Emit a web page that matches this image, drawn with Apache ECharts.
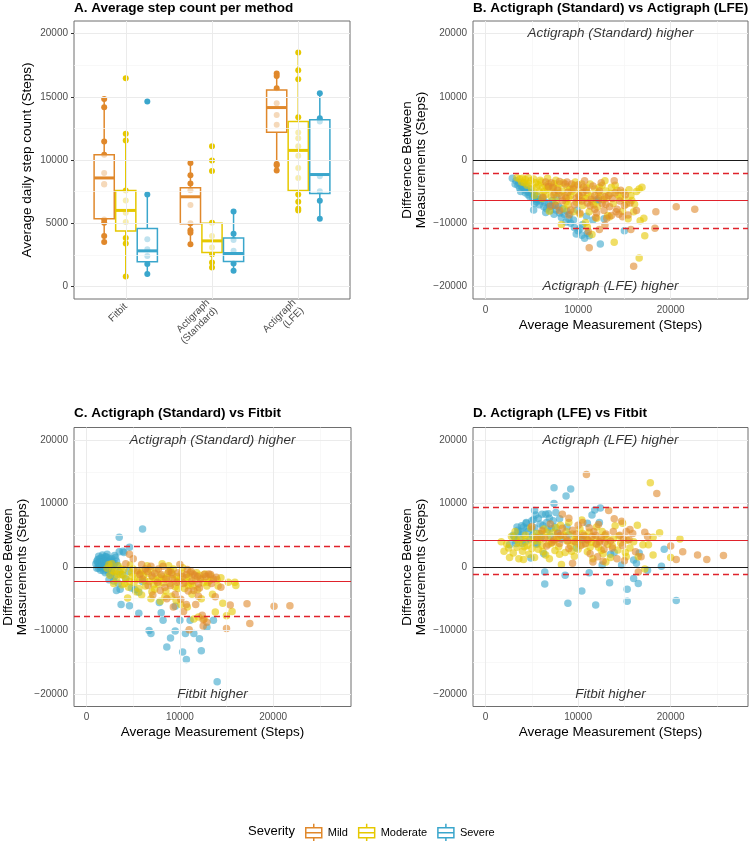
<!DOCTYPE html>
<html><head><meta charset="utf-8">
<script src="https://cdn.jsdelivr.net/npm/echarts@6.0.0/dist/echarts.min.js"></script>
<style>html,body{margin:0;padding:0;background:#fff}#c{width:750px;height:841px}</style>
</head><body><div id="c"></div>
<script>
// ---------- DATA ----------
const severities = ['Mild', 'Moderate', 'Severe'];
const methods = ['Fitbit', 'Actigraph\n(Standard)', 'Actigraph\n(LFE)'];
const panelTitles = ['A. Average step count per method', 'B. Actigraph (Standard) vs Actigraph (LFE)', 'C. Actigraph (Standard) vs Fitbit', 'D. Actigraph (LFE) vs Fitbit'];

// Panel A tick labels
const stepTicks = [0, 5000, 10000, 15000, 20000];
const stepMinor = [2500, 7500, 12500, 17500];
const methodTicks = [1, 2, 3];
// Bland-Altman tick labels
const diffTicks = [-20000, -10000, 0, 10000, 20000];
const diffMinor = [-15000, -5000, 5000, 15000];
const avgTicks = [0, 10000, 20000];
const avgMinor = [5000, 15000, 25000];

// Box statistics per method [min, Q1, median, Q3, max]
const boxMild = [[3520, 5350, 8580, 10420, 14830], [3330, 4960, 7090, 7800, 9760], [9160, 12200, 14150, 15540, 16850]];
const boxModerate = [[790, 4380, 6010, 7590, 12070], [1500, 2680, 3600, 4990, 5040], [6010, 7590, 10760, 13040, 18500]];
const boxSevere = [[970, 1940, 2810, 4570, 7270], [1230, 1970, 2600, 3830, 5930], [5350, 7350, 8850, 13180, 15280]];

// Participant averages per method
const ptsMild = [
  [14830, 14170, 11470, 10420, 8980, 8110, 8060, 5300, 5040, 3990, 3520],
  [9760, 8790, 8140, 7610, 6430, 4990, 4440, 4250, 3330],
  [16850, 16640, 15670, 14490, 13570, 12780, 9690, 9580, 9160]
];
const ptsModerate = [
  [16460, 12070, 11550, 7590, 6800, 5830, 5090, 3830, 3390, 790],
  [11080, 9970, 9130, 5040, 3990, 3070, 2550, 1890, 1500],
  [18500, 17110, 16400, 13390, 12180, 11730, 11080, 10340, 9370, 8580, 7270, 6690, 6140, 6010]
];
const ptsSevere = [
  [14620, 7270, 3730, 2940, 2410, 1760, 970],
  [5930, 4170, 3670, 2810, 1810, 1230],
  [15280, 13310, 13040, 8710, 7530, 6770, 5350]
];

// Panel B: [average, difference]
const bSevere = [[2900,-2900],[3200,-3800],[3300,-3300],[3500,-4000],[3600,-3600],[3700,-4500],[3800,-5000],[3900,-4100],[4000,-4300],[4100,-3700],[4200,-4600],[4300,-5200],[4400,-4200],[4500,-4900],[4600,-5500],[4700,-5100],[4800,-4600],[4800,-5800],[5000,-5300],[5100,-6000],[5200,-7900],[5300,-6900],[5300,-5500],[5400,-6200],[5500,-6600],[5600,-5700],[5700,-6300],[5800,-7100],[6000,-6500],[6200,-6000],[6300,-7400],[6400,-6700],[6500,-8300],[6600,-7700],[6800,-6800],[6900,-7400],[7000,-8000],[7200,-7300],[7200,-6400],[7400,-8600],[7500,-7100],[7600,-7900],[7700,-5900],[7900,-7400],[8000,-8400],[8200,-9100],[8300,-7700],[8500,-8600],[8700,-9800],[8800,-8100],[9000,-9300],[9100,-8600],[9200,-10000],[9500,-9500],[9600,-10700],[9800,-11700],[9900,-7900],[10000,-11200],[10200,-10900],[10400,-11900],[10500,-10200],[10700,-12400],[10900,-8900],[11000,-11600],[11200,-12000],[11600,-9500],[12000,-6300],[12200,-6400],[12400,-13300],[12800,-9300],[15000,-11200]];
const bModerate = [[3400,-2800],[3700,-3000],[3900,-3500],[4000,-2900],[4200,-3600],[4300,-3100],[4500,-4000],[4600,-2800],[4700,-3700],[4900,-3300],[5000,-4600],[5200,-3000],[5300,-5600],[5400,-3600],[5500,-4300],[5700,-3900],[5800,-5000],[5900,-3200],[6000,-3500],[6100,-6100],[6200,-4400],[6300,-5000],[6500,-4100],[6500,-5500],[6700,-2900],[6700,-4500],[6800,-3800],[6900,-8100],[7000,-4700],[7100,-5800],[7300,-4200],[7400,-3700],[7500,-5200],[7600,-6500],[7600,-3200],[7800,-4500],[7900,-5300],[8000,-3800],[8200,-10200],[8300,-4900],[8400,-3600],[8500,-7700],[8600,-5600],[8700,-6600],[8800,-4200],[8900,-7100],[9000,-6100],[9100,-4600],[9200,-5600],[9300,-5000],[9500,-4400],[9500,-8200],[9600,-4000],[9700,-3500],[9800,-6700],[10000,-5400],[10100,-6300],[10200,-8600],[10300,-4800],[10400,-3800],[10500,-7200],[10600,-5900],[10800,-6100],[10800,-9900],[10900,-4400],[11000,-5200],[11000,-10600],[11200,-8200],[11300,-3800],[11400,-5700],[11500,-6600],[11500,-11800],[11700,-7100],[11800,-4600],[12000,-9200],[12100,-7400],[12200,-5200],[12300,-4300],[12400,-5700],[12600,-4000],[12700,-6300],[12900,-3300],[13000,-4900],[13100,-6000],[13200,-8800],[13400,-9000],[13500,-5300],[13600,-4300],[13800,-6900],[13900,-13000],[14000,-4000],[14200,-4800],[14300,-5500],[14500,-6000],[14800,-8100],[14900,-5100],[15000,-6200],[15200,-7000],[15400,-9300],[15500,-4700],[15700,-5600],[15800,-6400],[16000,-8200],[16100,-7000],[16300,-5000],[16600,-4600],[16600,-15500],[16700,-9600],[16900,-4300],[17100,-9200],[17200,-12000]];
const bMild = [[6200,-5900],[6500,-3500],[6800,-4200],[7000,-7300],[7100,-3600],[7300,-4400],[7400,-5500],[7600,-7200],[7800,-4800],[8000,-3400],[8000,-8000],[8200,-5700],[8300,-6500],[8600,-3800],[8700,-6000],[8800,-3500],[8900,-5100],[9000,-8700],[9200,-7900],[9300,-3800],[9500,-4600],[9600,-7100],[9800,-6000],[10000,-3900],[10100,-5700],[10200,-8400],[10400,-6500],[10500,-5200],[10600,-4300],[10700,-3300],[10900,-4800],[11000,-6800],[11100,-11300],[11200,-13900],[11300,-7300],[11400,-6200],[11600,-4100],[11800,-5600],[11800,-7800],[11900,-9100],[12000,-8400],[12200,-6100],[12300,-11000],[12300,-4900],[12500,-3600],[12600,-6900],[12800,-8000],[12900,-10300],[12900,-5800],[13000,-7000],[13100,-9200],[13300,-5600],[13400,-7400],[13600,-8800],[13700,-6100],[13900,-3300],[14000,-5200],[14100,-8200],[14200,-7800],[14400,-8600],[14500,-6500],[14600,-4800],[14800,-9000],[15000,-7200],[15100,-5500],[15400,-8700],[15600,-6800],[15700,-11000],[16000,-16800],[16300,-8000],[18300,-10800],[18400,-8200],[20600,-7400],[22600,-7800]];

// Panel C
const cSevere = [[1000,500],[1100,-200],[1100,900],[1200,1200],[1200,700],[1300,-200],[1300,400],[1300,1700],[1400,100],[1400,1300],[1500,800],[1500,200],[1500,-500],[1600,1500],[1600,-100],[1700,300],[1700,800],[1700,1900],[1800,-600],[1800,100],[1800,1300],[1900,1000],[1900,400],[2000,1600],[2000,200],[2000,-900],[2100,-300],[2100,1000],[2100,1600],[2200,600],[2200,2000],[2300,1400],[2300,-500],[2400,-1000],[2400,800],[2400,-2000],[2500,200],[2500,900],[2600,1100],[2600,-1300],[2700,-400],[2700,-900],[2700,1300],[2800,700],[2900,-2200],[2900,300],[3000,-1500],[3000,500],[3000,1800],[3100,1500],[3200,900],[3200,-3700],[3300,200],[3400,-2600],[3500,-800],[3500,2400],[3500,4700],[3600,-3500],[3700,-5900],[3800,-1200],[3900,2500],[4000,2300],[4200,-1900],[4500,-700],[4600,3100],[4600,-6100],[4800,-3300],[5200,-3600],[5600,-7300],[5600,-4000],[6000,-2300],[6000,6000],[6700,-10000],[6900,-10500],[7800,-5600],[8000,-7200],[8200,-8400],[8600,-12600],[9000,-11200],[9500,-10100],[9500,-6200],[10000,-8400],[10300,-13400],[10600,-10500],[10700,-14600],[11100,-8400],[11500,-10500],[12100,-11300],[12300,-13200],[12900,-9500],[13600,-8400],[14000,-18100]];
const cModerate = [[2200,-200],[2400,400],[2500,-1300],[2700,500],[2800,-600],[2900,-2600],[3000,-800],[3200,-2000],[3300,-1100],[3400,200],[3600,-1200],[3700,-300],[3800,-2800],[3900,-1300],[4000,-400],[4100,-2600],[4200,-1800],[4400,-4900],[4500,-3200],[4600,-2300],[4700,300],[4800,-900],[4900,-1500],[5000,-300],[5100,-2500],[5200,-1900],[5300,-3900],[5500,-900],[5600,-3400],[5700,-2000],[5800,-1000],[5900,-4400],[6000,-600],[6100,-1300],[6200,-2100],[6300,-3000],[6500,200],[6600,-1000],[6700,-2300],[6800,-400],[6900,-5000],[7000,-3900],[7100,-1600],[7200,-2800],[7300,-3500],[7400,-2100],[7500,-600],[7700,-2700],[7800,-1700],[7900,-5400],[8000,-1400],[8100,500],[8200,-2500],[8300,-1900],[8400,-4700],[8500,-3800],[8600,-1600],[8700,-1000],[8800,200],[8900,-2600],[9000,-600],[9100,-4600],[9200,-1200],[9300,-300],[9400,-2000],[9500,-3100],[9600,-5300],[9700,-1500],[9800,-3400],[9900,-2200],[10000,-1900],[10100,-5900],[10200,-1000],[10300,-100],[10500,-3400],[10600,-2400],[10700,-1700],[10800,-6300],[10900,-2900],[11000,-1500],[11100,-900],[11200,-2600],[11300,-4300],[11400,-3000],[11500,-8200],[11700,-2000],[11800,-900],[11900,-3600],[12000,-7900],[12100,-1300],[12300,-5000],[12400,-1800],[12500,-2500],[12600,-8200],[12700,-1100],[12900,-3000],[13000,-2400],[13200,-2100],[13300,-1400],[13500,-4300],[13800,-7100],[14000,-2000],[14100,-3000],[14400,-1700],[14600,-5700],[15000,-7700],[15200,-2400],[15600,-7000],[15900,-2400],[16000,-2900]];
const cMild = [[4200,500],[4600,2000],[5000,1300],[5400,-600],[5700,-1200],[5900,400],[6000,-1900],[6300,-300],[6500,-700],[6600,-2900],[6900,100],[7000,-1400],[7100,-4400],[7300,-1000],[7600,-2400],[7700,-300],[7900,-3700],[8000,-1200],[8200,100],[8400,-3200],[8500,-1900],[8600,-5000],[8800,-700],[9000,-2900],[9100,-900],[9200,-1800],[9300,-6300],[9500,-4300],[9700,-2400],[9800,-900],[10000,400],[10100,-5100],[10300,-1500],[10400,-2600],[10400,-7000],[10700,-1200],[10700,-5900],[10800,-400],[10900,-3800],[11000,-9900],[11200,-700],[11300,-2200],[11400,-1100],[11500,-3700],[11600,-1300],[11700,-5900],[11900,-1500],[12000,-4600],[12000,-2700],[12100,-3300],[12200,-1900],[12400,-7600],[12500,-8300],[12500,-9300],[12600,-1200],[12800,-1500],[12900,-8700],[13100,-1100],[13300,-1200],[13400,-2600],[13600,-1900],[13800,-4700],[13900,-1600],[14400,-3200],[15000,-9700],[15400,-6000],[17200,-5800],[17500,-8900],[20100,-6200],[21800,-6100]];

// Panel D
const dSevere = [[2600,3500],[3000,5000],[3100,4800],[3200,4200],[3300,3700],[3400,6300],[3500,5500],[3500,5800],[3700,4600],[3800,5600],[3900,6500],[4000,3700],[4100,5200],[4100,6300],[4300,4000],[4400,6900],[4400,7000],[4500,6100],[4600,5600],[4800,4400],[4900,1400],[5000,7300],[5000,6000],[5100,5000],[5200,7500],[5300,6200],[5300,8900],[5400,8200],[5500,3600],[5600,3700],[5700,7700],[5800,5300],[5900,6800],[6000,4700],[6100,8300],[6200,6500],[6300,2100],[6400,-800],[6400,-2700],[6500,8300],[6600,7000],[6700,5900],[6800,8400],[6900,7700],[7000,4900],[7100,6100],[7300,7300],[7400,12500],[7400,10000],[7500,6300],[7600,8600],[7800,5400],[8000,7600],[8200,4400],[8600,-1300],[8700,11200],[8800,6300],[8900,-5700],[9000,5100],[9200,12300],[9800,3000],[10400,-3800],[10500,4300],[11000,6900],[11200,-900],[11500,8200],[11800,9000],[11900,-6000],[12300,7000],[12400,9300],[12600,300],[13400,-2500],[13500,2000],[13900,2300],[14700,300],[15300,-3500],[15300,-5400],[16000,1100],[16000,-1800],[16300,600],[16500,-2600],[16600,2200],[17500,-500],[19000,100],[19300,2800],[20600,-5300]];
const dModerate = [[1700,4000],[2000,2500],[2300,3600],[2500,3000],[2600,1500],[2800,4800],[3000,2200],[3200,5600],[3300,4400],[3400,3100],[3600,1300],[3600,3800],[3800,4300],[4000,2500],[4100,1200],[4200,3200],[4300,5000],[4400,4500],[4500,3400],[4700,2000],[4900,6200],[5000,2900],[5100,4000],[5200,4700],[5300,1500],[5500,5300],[5600,4100],[5700,2800],[5900,4400],[6000,5200],[6100,3400],[6200,2400],[6300,6000],[6500,1900],[6600,5500],[6700,4700],[6800,3600],[6900,1300],[7100,3700],[7300,5400],[7400,4100],[7500,2600],[7600,6200],[7700,4500],[7900,3200],[7900,4800],[8000,2000],[8100,6600],[8200,400],[8400,5000],[8600,2300],[8700,5600],[8800,4100],[9000,7000],[9200,3300],[9300,2500],[9400,5200],[9500,4100],[9600,1700],[9800,4500],[9900,3700],[10000,2800],[10000,4400],[10200,6000],[10400,7400],[10500,5300],[10600,3600],[10800,4800],[11000,2400],[11100,4200],[11200,5500],[11300,3100],[11400,3900],[11600,1300],[11800,4600],[11900,3700],[12000,6300],[12200,3100],[12400,4200],[12500,2600],[12600,5600],[12700,2100],[12900,5000],[13000,800],[13100,4500],[13200,3600],[13500,1500],[13700,3300],[13800,4400],[14000,6500],[14300,2700],[14400,4900],[14600,3800],[14800,6900],[15100,2300],[15200,1600],[15300,4200],[15600,3000],[16000,4000],[16400,6600],[16500,1600],[17000,3500],[17200,-300],[17600,3500],[17800,13300],[18100,4700],[18100,1900],[18800,5400],[20000,1500],[21000,4400]];
const dMild = [[5000,6400],[5600,4600],[6100,5700],[6400,4500],[6600,3300],[7000,6800],[7200,3900],[7400,4300],[7800,5300],[8000,3700],[8100,5000],[8300,6100],[8300,8300],[8700,4700],[8900,4100],[9000,2900],[9000,7700],[9400,5800],[9400,600],[9700,4000],[9800,5200],[10000,6600],[10300,3400],[10300,4600],[10500,7000],[10600,5000],[10800,3700],[10900,14600],[11000,4300],[11200,6200],[11300,2100],[11500,4800],[11600,800],[11700,5600],[11900,5000],[12000,3600],[12100,1600],[12200,6700],[12300,4000],[12500,4600],[12700,900],[12800,2800],[12900,3900],[13000,5200],[13300,8900],[13500,4100],[13700,3000],[13800,5600],[13900,7600],[14200,1300],[14500,5000],[14700,7200],[14800,3400],[14900,4400],[15000,1000],[15200,5600],[15500,4300],[15600,5900],[15900,5300],[16200,2400],[16500,-800],[16800,1600],[17200,5500],[17500,4800],[18500,11600],[20000,3300],[20600,1200],[21300,2400],[22900,1900],[23900,1200],[25700,1800]];

// Bland-Altman bias and limits of agreement [lower, mean, upper]
const limitsB = [-10760, -6430, -2100];
const limitsC = [-7690, -2180, 3330];
const limitsD = [-1100, 4150, 9400];
const annotTop = ['Actigraph (Standard) higher', 'Actigraph (Standard) higher', 'Actigraph (LFE) higher'];
const annotBottom = ['Actigraph (LFE) higher', 'Fitbit higher', 'Fitbit higher'];

// ---------- STYLE / BUILD ----------
const colors = { Mild: '#E0882B', Moderate: '#E6C800', Severe: '#3AA6CC' };
const FONT = '"Liberation Sans", Arial, Helvetica, sans-serif';
const dodge = { Mild: -0.25, Moderate: 0, Severe: 0.25 };
const BOX_HALF = 0.117;
const boxes = { Mild: boxMild, Moderate: boxModerate, Severe: boxSevere };
const pts = { Mild: ptsMild, Moderate: ptsModerate, Severe: ptsSevere };
const baData = [
  { Mild: bMild, Moderate: bModerate, Severe: bSevere },
  { Mild: cMild, Moderate: cModerate, Severe: cSevere },
  { Mild: dMild, Moderate: dModerate, Severe: dSevere }
];
const limits = [limitsB, limitsC, limitsD];
const AVG_MIN = -1350, AVG_MAX = 28350, DIFF_MIN = -22000, DIFF_MAX = 22000;

const fmtNum = v => (v < 0 ? '\u2212' + Math.abs(v) : String(v));

const grids = [
  { left: 74, top: 21, width: 276, height: 278 },
  { left: 473, top: 21, width: 275, height: 278 },
  { left: 74, top: 427.5, width: 277, height: 279 },
  { left: 473, top: 427.5, width: 275, height: 279 }
].map(g => Object.assign(g, { show: true, borderColor: '#6e6e6e', borderWidth: 1, backgroundColor: '#fff', containLabel: false, outerBoundsMode: 'none' }));

function axisBase(gridIndex, ticks, min, max) {
  return {
    type: 'value', gridIndex, min, max,
    axisLine: { show: false },
    axisTick: { show: true, length: 3, lineStyle: { color: '#333', width: 1 }, customValues: ticks },
    axisLabel: { customValues: ticks, color: '#4d4d4d', fontSize: 10, fontFamily: FONT, formatter: fmtNum, margin: 6 },
    splitLine: { show: false }, minorSplitLine: { show: false },
    nameTextStyle: { fontSize: 13.5, color: '#000', fontFamily: FONT, lineHeight: 14 }
  };
}

const xAxes = [], yAxes = [];
// Panel A
const xa = axisBase(0, methodTicks, 0.4, 3.6);
xa.axisLabel = Object.assign({}, xa.axisLabel, { rotate: 45, formatter: v => methods[Math.round(v) - 1], lineHeight: 11, margin: 6 });
xAxes.push(xa);
const ya = axisBase(0, stepTicks, -1000, 21000);
Object.assign(ya, { name: 'Average daily step count (Steps)', nameLocation: 'middle', nameGap: 40, nameRotate: 90 });
yAxes.push(ya);
for (let p = 1; p <= 3; p++) {
  const xb = axisBase(p, avgTicks, AVG_MIN, AVG_MAX);
  Object.assign(xb, { name: 'Average Measurement (Steps)', nameLocation: 'middle', nameGap: 19 });
  xAxes.push(xb);
  const yb = axisBase(p, diffTicks, DIFF_MIN, DIFF_MAX);
  Object.assign(yb, { name: 'Difference Between\nMeasurements (Steps)', nameLocation: 'middle', nameGap: 45, nameRotate: 90 });
  yAxes.push(yb);
}

const majStyle = { color: '#EBEBEB', width: 1, type: 'solid' };
const minStyle = { color: '#F5F5F5', width: 0.7, type: 'solid' };
function gridLineSeries(idx, xMaj, xMin, yMaj, yMin) {
  const data = [].concat(
    yMin.map(v => ({ yAxis: v, lineStyle: minStyle })),
    xMin.map(v => ({ xAxis: v, lineStyle: minStyle })),
    yMaj.map(v => ({ yAxis: v, lineStyle: majStyle })),
    xMaj.map(v => ({ xAxis: v, lineStyle: majStyle }))
  );
  return { type: 'line', name: 'grid' + idx, xAxisIndex: idx, yAxisIndex: idx, data: [], z: 1, silent: true,
    markLine: { silent: true, symbol: ['none', 'none'], label: { show: false }, animation: false, data } };
}

const series = [];
series.push(gridLineSeries(0, methodTicks, [], stepTicks, stepMinor));
for (let p = 1; p <= 3; p++) series.push(gridLineSeries(p, avgTicks, avgMinor, diffTicks, diffMinor));

// Panel A points and boxes
severities.forEach(s => {
  const data = [];
  pts[s].forEach((arr, i) => arr.forEach(v => data.push([i + 1 + dodge[s], v])));
  series.push({ type: 'scatter', name: s, xAxisIndex: 0, yAxisIndex: 0, z: 3, symbolSize: 6, silent: true,
    itemStyle: { color: colors[s], opacity: 1 }, data });
});
severities.forEach(s => {
  const c = colors[s];
  series.push({
    type: 'custom', name: s, xAxisIndex: 0, yAxisIndex: 0, z: 4, silent: true,
    itemStyle: { color: '#fff', borderColor: c },
    data: boxes[s].map((b, i) => [i + 1 + dodge[s]].concat(b)),
    encode: { x: 0, y: [1, 2, 3, 4, 5] },
    renderItem: (params, api) => {
      const cx = api.value(0), mn = api.value(1), q1 = api.value(2), md = api.value(3), q3 = api.value(4), mx = api.value(5);
      const tl = api.coord([cx - BOX_HALF, q3]);
      const br = api.coord([cx + BOX_HALF, q1]);
      const pMin = api.coord([cx, mn]), pMax = api.coord([cx, mx]), pMed = api.coord([cx, md]);
      return { type: 'group', children: [
        { type: 'line', shape: { x1: pMax[0], y1: pMax[1], x2: pMax[0], y2: tl[1] }, style: { stroke: c, lineWidth: 1.5 } },
        { type: 'line', shape: { x1: pMin[0], y1: br[1], x2: pMin[0], y2: pMin[1] }, style: { stroke: c, lineWidth: 1.5 } },
        { type: 'rect', shape: { x: tl[0], y: tl[1], width: br[0] - tl[0], height: br[1] - tl[1] }, style: { fill: 'rgba(255,255,255,0.68)', stroke: c, lineWidth: 1.5 } },
        { type: 'line', shape: { x1: tl[0], y1: pMed[1], x2: br[0], y2: pMed[1] }, style: { stroke: c, lineWidth: 3 } }
      ] };
    }
  });
});

// Bland-Altman panels
const drawOrder = ['Severe', 'Moderate', 'Mild'];
for (let p = 1; p <= 3; p++) {
  drawOrder.forEach(s => {
    series.push({ type: 'scatter', name: s, xAxisIndex: p, yAxisIndex: p, z: 3, symbolSize: 7.5, silent: true,
      itemStyle: { color: colors[s], opacity: 0.6 }, data: baData[p - 1][s] });
  });
  const L = limits[p - 1];
  const red = '#E0222B';
  series.push({ type: 'line', name: 'ref' + p, xAxisIndex: p, yAxisIndex: p, data: [], z: 5, silent: true,
    markLine: { silent: true, symbol: ['none', 'none'], label: { show: false }, animation: false, data: [
      { yAxis: 0, lineStyle: { color: '#1a1a1a', width: 1.1, type: 'solid' } },
      { yAxis: L[1], lineStyle: { color: red, width: 1.1, type: 'solid' } },
      { yAxis: L[0], lineStyle: { color: red, width: 1.3, type: [6, 4] } },
      { yAxis: L[2], lineStyle: { color: red, width: 1.3, type: [6, 4] } }
    ] } });
  const midX = (AVG_MIN + AVG_MAX) / 2;
  series.push({ type: 'scatter', name: 'annot' + p, xAxisIndex: p, yAxisIndex: p, z: 6, silent: true,
    symbolSize: 1, itemStyle: { color: 'rgba(0,0,0,0)' },
    label: { show: true, position: 'inside', formatter: prm => prm.data[2], fontSize: 13.5, fontStyle: 'italic', color: '#000', fontFamily: FONT },
    data: [[midX, diffTicks[diffTicks.length - 1], annotTop[p - 1]], [midX, diffTicks[0], annotBottom[p - 1]]] });
}

const titlePos = [[74, 1], [473, 1], [74, 406.5], [473, 406.5]];
const ICON = 'path://M1,4H17V14H1Z M1,9H17 M9,0V4 M9,14V18';

const option = {
  animation: false,
  backgroundColor: '#fff',
  textStyle: { fontFamily: FONT },
  title: panelTitles.map((t, i) => ({ text: t, left: titlePos[i][0], top: titlePos[i][1], padding: 0,
    textStyle: { fontSize: 13.5, fontWeight: 'bold', color: '#000', fontFamily: FONT } })),
  grid: grids,
  xAxis: xAxes,
  yAxis: yAxes,
  legend: {
    left: 305, top: 823, itemWidth: 18, itemHeight: 18, itemGap: 10, padding: 0, selectedMode: false,
    textStyle: { fontSize: 11, color: '#000', fontFamily: FONT },
    data: severities.map(s => ({ name: s, icon: ICON, itemStyle: { color: '#fff', borderColor: colors[s], borderWidth: 1.5 } }))
  },
  graphic: [{ type: 'text', left: 248, top: 825, style: { text: 'Severity', fontSize: 13, fill: '#000', fontFamily: FONT } }],
  series
};

const chart = echarts.init(document.getElementById('c'), null, { renderer: 'canvas' });
chart.setOption(option);
</script>
</body></html>
